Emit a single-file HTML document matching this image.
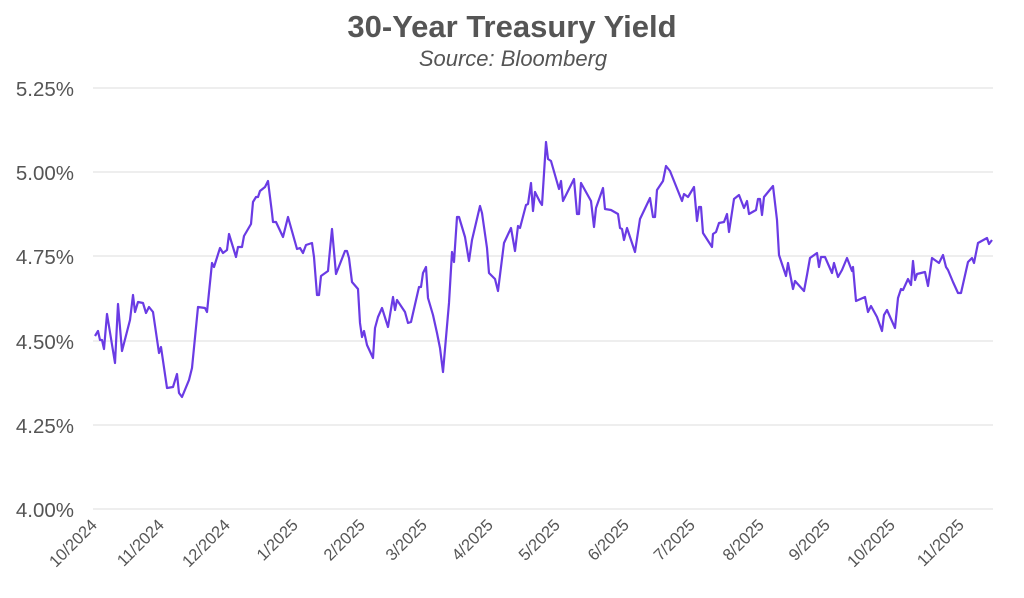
<!DOCTYPE html>
<html><head><meta charset="utf-8"><style>
html,body{margin:0;padding:0;background:#fff;}
svg{display:block;font-family:"Liberation Sans",sans-serif;}
</style></head><body>
<svg width="1024" height="598" viewBox="0 0 1024 598">
<text x="512" y="37" text-anchor="middle" font-size="31" font-weight="bold" fill="#555">30-Year Treasury Yield</text>
<text x="513" y="66" text-anchor="middle" font-size="22" font-style="italic" fill="#555">Source: Bloomberg</text>
<g stroke="#e8e8e8" stroke-width="1.5">
<line x1="93" y1="88" x2="993" y2="88"/><line x1="93" y1="172" x2="993" y2="172"/>
<line x1="93" y1="256" x2="993" y2="256"/><line x1="93" y1="341" x2="993" y2="341"/>
<line x1="93" y1="425" x2="993" y2="425"/><line x1="93" y1="509" x2="993" y2="509"/>
</g>
<g font-size="20.5" fill="#555" text-anchor="end">
<text x="74" y="96">5.25%</text><text x="74" y="180">5.00%</text>
<text x="74" y="264">4.75%</text><text x="74" y="349">4.50%</text>
<text x="74" y="433">4.25%</text><text x="74" y="517">4.00%</text>
</g>
<g font-size="16.5" fill="#555" text-anchor="end">
<text transform="translate(98,526) rotate(-45)">10/2024</text>
<text transform="translate(165,526) rotate(-45)">11/2024</text>
<text transform="translate(231,526) rotate(-45)">12/2024</text>
<text transform="translate(299,526) rotate(-45)">1/2025</text>
<text transform="translate(366,526) rotate(-45)">2/2025</text>
<text transform="translate(428,526) rotate(-45)">3/2025</text>
<text transform="translate(494,526) rotate(-45)">4/2025</text>
<text transform="translate(561,526) rotate(-45)">5/2025</text>
<text transform="translate(630,526) rotate(-45)">6/2025</text>
<text transform="translate(696,526) rotate(-45)">7/2025</text>
<text transform="translate(765,526) rotate(-45)">8/2025</text>
<text transform="translate(831,526) rotate(-45)">9/2025</text>
<text transform="translate(896,526) rotate(-45)">10/2025</text>
<text transform="translate(965,526) rotate(-45)">11/2025</text>
</g>
<polyline fill="none" stroke="#6a3be4" stroke-width="2.2" stroke-linejoin="round" points="95,336 98,331 100,340 102,340 104,349 107,314 115,363 118,304 122,351 130,320 133,295 135,312 138,302 143,303 146,313 149,307 153,312 159,353 161,347 167,388 173,387 177,374 179,393 182,397 189,380 192,368 198,307 205,308 207,312 212,263 214,267 220,248 223,253 227,250 229,234 236,257 238,247 242,247 244,236 251,224 253,202 256,197 258,197 260,191 265,187 268,181 272,213 273,222 276,222 283,237 288,217 297,249 300,248 303,253 306,245 312,243 314,257 317,295 319,295 321,276 328,271 329,260 332,229 336,274 345,251 347,251 349,258 352,282 358,289 360,323 362,337 364,331 367,345 373,358 375,328 378,317 382,308 388,327 393,297 395,310 397,300 405,312 408,323 411,322 419,287 421,287 423,273 426,267 428,298 433,315 437,333 440,348 443,372 449,303 452,252 454,262 457,217 459,217 465,237 469,261 472,240 480,206 482,213 487,248 489,273 495,279 498,291 504,243 511,228 515,251 518,226 520,228 526,205 528,204 531,183 533,211 535,192 540,202 542,205 546,142 548,159 551,161 559,189 561,181 563,201 574,179 577,214 579,214 581,183 591,201 594,227 596,208 603,188 605,209 611,210 618,214 620,228 622,229 624,240 627,228 635,252 640,219 650,198 653,217 655,217 657,190 663,181 666,166 670,171 682,201 684,194 688,197 694,187 697,221 699,207 701,207 703,233 712,247 713,234 716,232 719,223 724,222 727,214 729,232 734,199 739,195 744,208 747,201 749,214 756,210 758,199 760,199 762,215 764,197 773,186 777,220 779,255 786,276 788,263 793,289 795,281 804,291 807,275 810,258 817,253 819,267 821,257 825,257 832,273 834,263 838,277 842,270 847,258 852,271 853,267 856,301 865,297 868,312 871,306 877,317 882,331 884,315 887,310 895,328 898,298 901,289 903,290 908,279 911,285 913,261 915,280 917,274 925,272 928,286 932,258 939,263 943,255 946,267 948,270 953,282 958,293 961,293 968,262 972,258 974,263 978,243 987,238 989,244 992,240"/>
</svg>
</body></html>
